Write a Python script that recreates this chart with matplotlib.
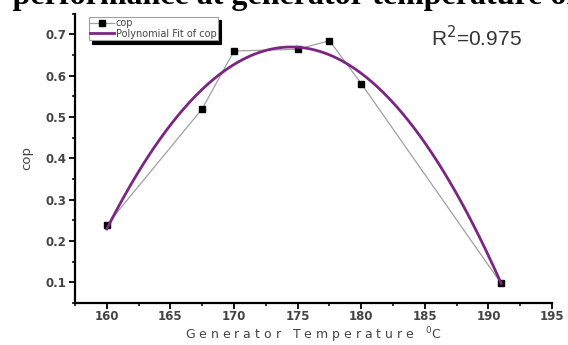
import numpy as np
import matplotlib
matplotlib.use("Agg")
import matplotlib.pyplot as plt
from matplotlib.ticker import MultipleLocator

# ---- Daten ----
temp = [160, 167.5, 170, 175, 177.5, 180, 191]
cop = [0.239, 0.52, 0.66, 0.664, 0.685, 0.581, 0.097]

xticks = [160, 165, 170, 175, 180, 185, 190, 195]
yticks = [0.1, 0.2, 0.3, 0.4, 0.5, 0.6, 0.7]

# Polynomfit 2. Ordnung
coef = np.polyfit(temp, cop, 2)
x_fit = np.linspace(min(temp), max(temp), 200)
y_fit = np.polyval(coef, x_fit)

plt.rcParams['font.family'] = ['DejaVu Sans']

fig = plt.figure(figsize=(5.68, 3.45), dpi=100)
ax = fig.add_axes([0.132, 0.122, 0.840, 0.838])

ax.plot(temp, cop, color='#a0a0a0', linewidth=0.9, marker='s', markersize=4,
        markerfacecolor='black', markeredgecolor='black', label='cop')
ax.plot(x_fit, y_fit, color='#7a2682', linewidth=2, label='Polynomial Fit of cop')

ax.set_xlim(157.5, 195)
ax.set_ylim(0.05, 0.75)
ax.set_xticks(xticks)
ax.set_yticks(yticks)
ax.xaxis.set_minor_locator(MultipleLocator(2.5))
ax.yaxis.set_minor_locator(MultipleLocator(0.05))
ax.tick_params(which='major', direction='out', length=4, width=1.3, pad=2,
               labelsize=8.5, labelcolor='#444444')
ax.tick_params(which='minor', direction='out', length=2.5, width=1.1)
ax.tick_params(axis='x', pad=1)
for lab in ax.get_xticklabels() + ax.get_yticklabels():
    lab.set_fontweight('bold')

ax.spines['top'].set_visible(False)
ax.spines['right'].set_visible(False)
ax.spines['left'].set_linewidth(1.6)
ax.spines['bottom'].set_linewidth(1.6)

ax.set_xlabel("G e n e r a t o r   T e m p e r a t u r e   $^0$C", fontsize=9,
              color='#444444', labelpad=1.5)
ax.set_ylabel("cop", fontsize=9.5, color='#444444', labelpad=9)

leg = ax.legend(loc='upper left', bbox_to_anchor=(0.029, 0.99), fontsize=7,
                frameon=True, fancybox=False,
                shadow={'color': 'black', 'alpha': 1, 'ox': 2.5, 'oy': -2.5},
                borderpad=0.15, labelspacing=0.05, handlelength=2.4,
                handletextpad=0.2, borderaxespad=0)
leg.get_frame().set_edgecolor('#a0a0a0')
leg.get_frame().set_linewidth(0.8)
for t in leg.get_texts():
    t.set_color('#444444')

ax.text(0.937, 0.917, "R$^2$=0.975", transform=ax.transAxes, ha='right',
        va='center', fontsize=15, color='#333333', family='Liberation Sans')

# abgeschnittener Titel oben
fig.text(0.52, 0.988, "COP performance at generator temperature of COP",
         ha='center', va='baseline', fontsize=23, fontweight='bold',
         family='Liberation Serif')

fig.savefig("out.png", dpi=100)
